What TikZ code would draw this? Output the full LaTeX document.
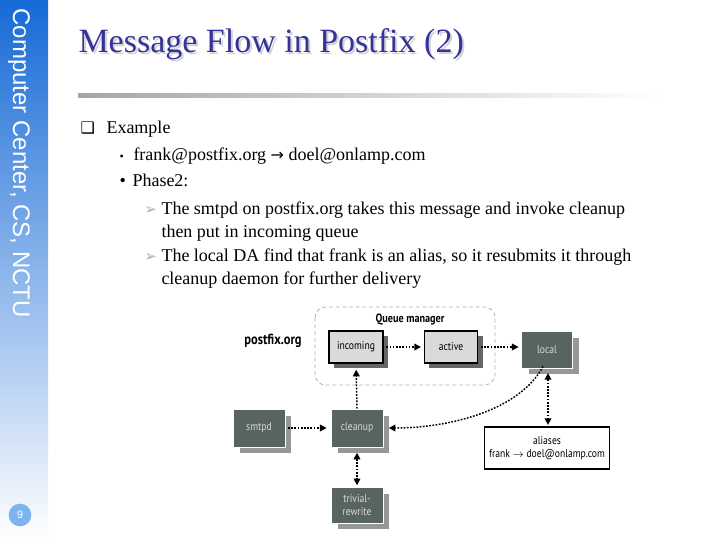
\documentclass[tikz,border=0pt]{standalone}
\usepackage{fontspec}
\setmainfont{Liberation Serif}
\newfontfamily\sidefont{Liberation Sans}
\newfontfamily\diagfont[FakeStretch=0.85]{PT Sans}
\newfontfamily\symfont{DejaVu Sans}
\usetikzlibrary{arrows.meta,shadows,positioning}

\definecolor{titleblue}{RGB}{51,51,153}
\definecolor{sidetop}{RGB}{22,106,214}
\definecolor{sidemid}{RGB}{165,190,235}
\definecolor{pagecirc}{RGB}{125,180,240}
\definecolor{procfill}{RGB}{88,100,96}
\definecolor{procback}{RGB}{150,152,150}
\definecolor{queuefill}{RGB}{218,218,218}

\tikzset{every picture/.style={line width=0.75pt}}
\tikzset{
  bodytext/.style={anchor=base west, inner sep=0pt, font=\fontsize{13.5}{16}\selectfont},
  queuebox/.style={draw=black, line width=1pt, fill=queuefill,
    font=\diagfont\fontsize{8.5}{10}\selectfont,
    drop shadow={shadow xshift=3.75pt, shadow yshift=-3.75pt, fill=black!70, opacity=0.85}},
  procbox/.style={draw=white, line width=0.6pt, fill=procfill, text=white!85!black,
    font=\diagfont\fontsize{8.5}{10}\selectfont, align=center,
    copy shadow={shadow xshift=5pt, shadow yshift=-4.5pt, fill=procback, draw=white}},
  flow/.style={line width=1.1pt, dash pattern=on 1.3pt off 1.1pt},
  tip/.tip={Triangle[length=5pt,width=5pt]},
}

\begin{document}
\begin{tikzpicture}[x=0.75pt,y=0.75pt,yscale=-1,xscale=1]
\useasboundingbox (0,0) rectangle (720,540);
\fill[white] (0,0) rectangle (720,540);

%Shape: side bar
\shade[top color=sidetop, middle color=sidemid, bottom color=white] (0,0) rectangle (48,540);
\node[rotate=-90, anchor=base west, inner sep=0pt, text=white, font=\sidefont\fontsize{18}{20}\selectfont] (sidetitle) at (13,8) {Computer Center, CS, NCTU};
\node[circle, fill=pagecirc, minimum size=17pt, inner sep=0pt, text=white, font=\sidefont\fontsize{8}{9}\selectfont] (pagenum) at (20,515) {9};

% Title
\node[anchor=base west, inner sep=0pt, text=gray!35, font=\fontsize{25.5}{30}\selectfont] (titleshadow) at (80,54) {Message Flow in Postfix (2)};
\node[anchor=base west, inner sep=0pt, text=titleblue, font=\fontsize{25.5}{30}\selectfont] (title) at (78,52) {Message Flow in Postfix (2)};
\shade[left color=gray!70, right color=white] (78,93) rectangle (660,97);

% Text Nodes
\node[bodytext, font=\symfont\fontsize{12}{14}\selectfont] (sq) at (80,133) {❑};
\node[bodytext] (example) at (106,133) {Example};
\node[bodytext, font=\fontsize{9}{10}\selectfont] (dot1) at (119,160) {•};
\node[bodytext] (addr) at (133,160) {frank@postfix.org {\symfont\fontsize{12}{14}\selectfont →} doel@onlamp.com};
\node[bodytext] (dot2) at (119,186) {•};
\node[bodytext] (phase) at (132,186) {Phase2:};
\node[bodytext, font=\symfont\fontsize{11}{13}\selectfont, text=gray!65] (tri1) at (144,214) {➢};
\node[bodytext] (line1) at (161,214) {The smtpd on postfix.org takes this message and invoke cleanup};
\node[bodytext] (line2) at (161,237) {then put in incoming queue};
\node[bodytext, font=\symfont\fontsize{11}{13}\selectfont, text=gray!65] (tri2) at (144,261) {➢};
\node[bodytext] (line3) at (161,261) {The local DA find that frank is an alias, so it resubmits it through};
\node[bodytext] (line4) at (161,284) {cleanup daemon for further delivery};

%Shape: Queue manager frame
\draw[gray!60, line width=0.6pt, dash pattern=on 3pt off 2pt, rounded corners=8pt] (315,307) rectangle (495,385);
\node[font=\diagfont\bfseries\fontsize{9}{10}\selectfont] (qmlabel) at (410,319) {Queue manager};
\node[font=\diagfont\bfseries\fontsize{11}{12}\selectfont] (host) at (273,341) {postfix.org};

% Boxes
\node[queuebox, minimum width=40.5pt, minimum height=24pt] (incoming) at (356,347) {incoming};
\node[queuebox, minimum width=40pt, minimum height=24pt] (active) at (451,347) {active};
\node[procbox, minimum width=38pt, minimum height=28pt] (local) at (547,350) {local};
\node[procbox, minimum width=39pt, minimum height=28.5pt] (smtpd) at (259,428) {smtpd};
\node[procbox, minimum width=39pt, minimum height=28.5pt] (cleanup) at (357,428) {cleanup};
\node[procbox, minimum width=39pt, minimum height=27pt] (trivial) at (357,505) {trivial-\\rewrite};
\node[draw=black, line width=1.1pt, fill=white, align=center, minimum width=89pt, minimum height=31.5pt, font=\diagfont\fontsize{8.5}{10}\selectfont] (aliases) at (547,448) {aliases\\frank $\rightarrow$ doel@onlamp.com};

% Connectors
\draw[flow, -tip, shorten <=2pt, shorten >=2pt] (incoming.east) -- (active.west);
\draw[flow, -tip, shorten <=2pt, shorten >=2pt] (active.east) -- (active.east -| local.west);
\draw[flow, -tip, shorten >=4.5pt] (cleanup.north) -- (incoming.south);
\draw[flow, -tip, shorten <=2pt, shorten >=3pt] (smtpd.east) -- (cleanup.west);
\draw[flow, tip-tip, shorten <=4pt, shorten >=1pt] (cleanup.south) -- (trivial.north);
\draw[flow, tip-tip, shorten <=3pt, shorten >=1pt] ([xshift=0.75pt]local.south) -- ([xshift=0.75pt]aliases.north);
\draw[flow, -tip, shorten >=4pt] ([xshift=-3pt,yshift=-2pt]local.south) .. controls (520,410) and (450,428) .. (cleanup.east);

\end{tikzpicture}
\end{document}
